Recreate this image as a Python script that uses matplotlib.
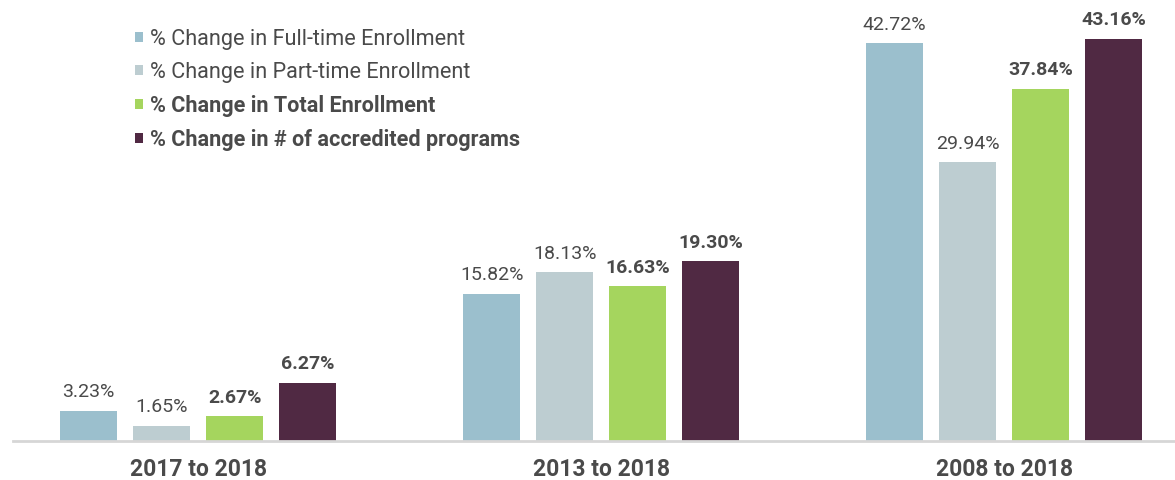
import numpy as np
import matplotlib.pyplot as plt
from matplotlib.patches import Patch

plt.rcParams['font.family'] = ['Roboto', 'DejaVu Sans']

periods = ['2017 to 2018', '2013 to 2018', '2008 to 2018']
series_names = ['% Change in Full-time Enrollment',
                '% Change in Part-time Enrollment',
                '% Change in Total Enrollment',
                '% Change in # of accredited programs']
full_time = [3.23, 15.82, 42.72]
part_time = [1.65, 18.13, 29.94]
total = [2.67, 16.63, 37.84]
programs = [6.27, 19.30, 43.16]

series = [full_time, part_time, total, programs]
colors = ['#9bbfcd', '#bdcdd1', '#a5d55e', '#502943']
bold = [False, False, True, True]
text_color = '#4a4a4a'

fig = plt.figure(figsize=(11.75, 4.8), dpi=100)
ax = fig.add_axes([0.011, 0.081, 0.989, 0.919])

x = np.arange(len(periods))
pitch = 0.1812
width = 0.1415
offsets = (np.arange(4) - 1.5) * pitch

for i, vals in enumerate(series):
    bars = ax.bar(x + offsets[i], vals, width=width, color=colors[i], zorder=2)
    for b, v in zip(bars, vals):
        ax.annotate(f'{v:.2f}%', (b.get_x() + b.get_width() / 2, v),
                    xytext=(0, 7), textcoords='offset points',
                    ha='center', va='bottom', fontsize=14,
                    color=text_color,
                    fontweight='bold' if bold[i] else 'normal')

ax.set_xlim(-0.46, 2.424)
ax.set_ylim(0, 47.37)
ax.set_xticks(x)
ax.set_xticklabels(periods, fontsize=16.5, fontweight='bold', color=text_color)
ax.tick_params(axis='x', length=0, pad=12)
ax.set_yticks([])
for s in ['top', 'right', 'left']:
    ax.spines[s].set_visible(False)
ax.spines['bottom'].set_color('#d6d6d6')
ax.spines['bottom'].set_linewidth(2)

handles = [Patch(facecolor=c) for c in colors]
leg = ax.legend(handles, series_names, loc='upper left',
                bbox_to_anchor=(0.096, 0.959), frameon=False, borderpad=0,
                fontsize=15.6, handlelength=0.37, handleheight=0.37,
                handletextpad=0.3, labelspacing=0.55)
for t, b in zip(leg.get_texts(), bold):
    t.set_color(text_color)
    t.set_fontweight('bold' if b else 'normal')

fig.savefig('out.png', dpi=100)
